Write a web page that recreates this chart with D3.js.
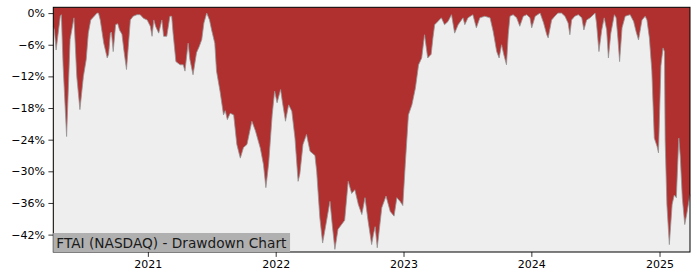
<!DOCTYPE html>
<html>
<head>
<meta charset="utf-8">
<script src="https://cdn.jsdelivr.net/npm/d3@7"></script>
<style>
  body { margin: 0; background: #fff; }
  svg { display: block; font-family: "DejaVu Sans", sans-serif; }
</style>
</head>
<body>
<svg id="chart" width="700" height="280"></svg>
<script>
// drawdown readings (percent) for FTAI
const dates = [
  '2020-04-06','2020-04-09','2020-04-14','2020-04-26','2020-04-29','2020-05-04','2020-05-14','2020-05-24',
  '2020-06-04','2020-06-12','2020-06-21','2020-07-01','2020-07-09','2020-07-15','2020-07-22','2020-07-29',
  '2020-08-09','2020-08-13','2020-08-18','2020-08-28','2020-09-07','2020-09-11','2020-09-16','2020-09-19',
  '2020-09-24','2020-10-01','2020-10-07','2020-10-12','2020-10-19','2020-10-25','2020-11-01','2020-11-06',
  '2020-11-12','2020-11-20','2020-12-01','2020-12-10','2020-12-20','2020-12-30','2021-01-08','2021-01-13',
  '2021-01-18','2021-01-23','2021-02-01','2021-02-10','2021-02-15','2021-02-24','2021-03-05','2021-03-10',
  '2021-03-14','2021-03-22','2021-04-03','2021-04-12','2021-04-17','2021-04-26','2021-05-01','2021-05-10',
  '2021-05-20','2021-05-28','2021-06-04','2021-06-10','2021-06-18','2021-06-26','2021-07-02','2021-07-11',
  '2021-07-16','2021-07-26','2021-08-05','2021-08-10','2021-08-16','2021-08-24','2021-09-03','2021-09-12',
  '2021-09-22','2021-10-01','2021-10-11','2021-10-25','2021-11-04','2021-11-18','2021-11-27','2021-12-04',
  '2021-12-12','2021-12-22','2021-12-29','2022-01-05','2022-01-15','2022-01-20','2022-01-29','2022-02-07',
  '2022-02-16','2022-02-25','2022-03-06','2022-03-11','2022-03-20','2022-03-30','2022-04-09','2022-04-23',
  '2022-04-28','2022-05-07','2022-05-15','2022-05-26','2022-06-05','2022-06-12','2022-06-19','2022-06-28',
  '2022-07-08','2022-07-17','2022-07-27','2022-08-06','2022-08-15','2022-08-25','2022-09-04','2022-09-13',
  '2022-09-22','2022-10-02','2022-10-07','2022-10-12','2022-10-18','2022-10-31','2022-11-12','2022-11-24',
  '2022-12-05','2022-12-13','2022-12-22','2022-12-30','2023-01-06','2023-01-15','2023-01-25','2023-02-04',
  '2023-02-13','2023-02-22','2023-03-02','2023-03-11','2023-03-21','2023-03-26','2023-03-31','2023-04-09',
  '2023-04-19','2023-04-28','2023-05-08','2023-05-18','2023-05-27','2023-06-06','2023-06-20','2023-06-25',
  '2023-07-04','2023-07-18','2023-07-28','2023-08-07','2023-08-21','2023-09-05','2023-09-14','2023-09-24',
  '2023-10-01','2023-10-08','2023-10-14','2023-10-22','2023-10-27','2023-11-01','2023-11-10','2023-11-20',
  '2023-11-29','2023-12-09','2023-12-19','2023-12-28','2024-01-02','2024-01-12','2024-01-26','2024-02-05',
  '2024-02-14','2024-02-18','2024-02-28','2024-03-08','2024-03-17','2024-03-27','2024-04-06','2024-04-15',
  '2024-04-20','2024-04-25','2024-05-04','2024-05-14','2024-05-24','2024-05-30','2024-06-07','2024-06-17',
  '2024-06-26','2024-07-01','2024-07-05','2024-07-12','2024-07-20','2024-07-27','2024-08-03','2024-08-08',
  '2024-08-15','2024-08-25','2024-08-30','2024-09-04','2024-09-09','2024-09-16','2024-09-25','2024-10-09',
  '2024-10-19','2024-10-26','2024-11-02','2024-11-12','2024-11-21','2024-11-26','2024-12-03','2024-12-10',
  '2024-12-17','2024-12-25','2024-12-29','2025-01-05','2025-01-11','2025-01-15','2025-01-17','2025-01-22',
  '2025-01-29','2025-02-06','2025-02-12','2025-02-18','2025-02-25','2025-03-01','2025-03-07','2025-03-14',
  '2025-03-20','2025-03-29'
];
const drawdown = [
  -2.5, -3.2, -7.0, -0.6, -0.3, -10.0, -23.4, -5.0,
  -0.9, -12.0, -18.3, -12.0, -8.8, -3.8, -1.3, -0.8,
  0.0, 0.0, -1.3, -5.7, -8.5, -7.8, -3.8, -3.6,
  -7.3, -2.2, -2.0, -3.2, -4.0, -7.3, -10.7, -6.5,
  -1.3, -0.6, -0.3, -0.3, -1.0, -1.3, -2.5, -4.4,
  -1.3, -2.5, -3.8, -1.3, -4.4, -4.4, -0.6, -0.6,
  -3.8, -9.2, -9.8, -9.8, -11.0, -5.7, -8.8, -11.7,
  -7.5, -6.3, -5.0, -1.9, 0.0, -1.3, -3.2, -5.7,
  -11.0, -14.8, -19.3, -18.5, -20.2, -19.0, -19.3, -24.9,
  -27.5, -25.5, -24.9, -20.5, -22.3, -25.6, -28.7, -33.1,
  -28.5, -19.3, -14.8, -17.0, -14.5, -16.8, -20.5, -17.4,
  -18.6, -23.7, -31.9, -30.5, -24.9, -23.0, -26.2, -27.0,
  -30.0, -38.8, -43.6, -39.5, -35.7, -40.5, -44.8, -41.0,
  -40.1, -39.3, -31.9, -34.2, -33.5, -36.3, -38.2, -35.0,
  -39.5, -43.9, -42.0, -40.5, -44.5, -36.9, -34.7, -37.6,
  -38.5, -35.0, -35.7, -36.5, -28.7, -19.3, -17.4, -14.2,
  -9.8, -8.5, -4.1, -8.5, -7.8, -4.7, -2.2, -1.6,
  -0.9, -2.2, -1.6, -0.3, -3.8, -2.2, -0.9, -2.2,
  -0.9, -0.3, -2.8, -0.9, -0.6, -0.9, -3.5, -7.3,
  -8.5, -6.0, -7.8, -9.8, -4.1, -0.6, -0.3, -0.9,
  -2.5, -0.6, -0.3, -0.9, -2.8, -0.6, 0.0, -1.9,
  -4.1, -4.7, -1.3, -0.6, 0.0, 0.0, -0.6, -1.9,
  -4.1, -1.3, -0.6, -0.3, -0.9, -3.2, -1.3, -0.9,
  -0.3, 0.0, -1.9, -7.3, -3.2, -0.9, -3.2, -8.5,
  -3.8, -0.3, -0.9, -4.7, -9.2, -2.8, -0.6, -0.3,
  -1.6, -3.5, -5.1, -1.3, -0.6, -1.3, -4.7, -11.0,
  -23.7, -25.3, -26.5, -10.0, -6.6, -7.3, -24.0, -36.3,
  -43.9, -36.3, -34.5, -35.0, -23.7, -27.0, -35.0, -40.1,
  -38.0, -34.4
];
const yTicks = [0, -6, -12, -18, -24, -30, -36, -42];
const title = 'FTAI (NASDAQ) - Drawdown Chart';

const parse = d3.timeParse('%Y-%m-%d');
const data = dates.map((d, i) => ({ date: parse(d), value: drawdown[i] }));

const margin = { top: 7.3, right: 10, bottom: 28, left: 53.3 };
const width = 700;
const height = 280;
const svg = d3.select('#chart');

const x = d3.scaleTime()
  .domain(d3.extent(data, d => d.date))
  .range([margin.left, width - margin.right]);

const y = d3.scaleLinear()
  .domain([-45.3, 1.1])
  .range([height - margin.bottom, margin.top]);

// red above the curve, light grey below it
svg.append('rect')
  .attr('x', margin.left)
  .attr('y', margin.top)
  .attr('width', x.range()[1] - margin.left)
  .attr('height', y.range()[0] - margin.top)
  .attr('fill', '#b03030');

const area = d3.area()
  .x(d => x(d.date))
  .y0(y.range()[0])
  .y1(d => y(d.value));

svg.append('path')
  .datum(data)
  .attr('d', area)
  .attr('fill', '#eeeeee');

svg.append('path')
  .datum(data)
  .attr('d', d3.line().x(d => x(d.date)).y(d => y(d.value)))
  .attr('fill', 'none')
  .attr('stroke', '#969696')
  .attr('stroke-width', 0.8);

const fmt = d => (d < 0 ? '\u2212' + Math.abs(d) : d) + '%';

svg.append('g')
  .attr('transform', `translate(${margin.left},0)`)
  .call(d3.axisLeft(y).tickValues(yTicks).tickFormat(fmt).tickSize(4.9).tickPadding(3.5))
  .call(g => g.select('.domain').remove());

svg.append('g')
  .attr('transform', `translate(0,${y.range()[0]})`)
  .call(d3.axisBottom(x).ticks(d3.timeYear.every(1)).tickFormat(d3.timeFormat('%Y')).tickSize(4.9).tickPadding(3.5))
  .call(g => g.select('.domain').remove());

svg.selectAll('.tick text')
  .attr('font-family', '"DejaVu Sans", sans-serif')
  .attr('font-size', 11)
  .attr('fill', '#000');
svg.selectAll('.tick line').attr('stroke', '#000').attr('stroke-width', 0.8);

// frame
svg.append('rect')
  .attr('x', margin.left)
  .attr('y', margin.top)
  .attr('width', x.range()[1] - margin.left)
  .attr('height', y.range()[0] - margin.top)
  .attr('fill', 'none')
  .attr('stroke', '#000')
  .attr('stroke-width', 1);

// label box in the lower left corner
const label = svg.append('g');
const labelText = label.append('text')
  .attr('x', margin.left + 3)
  .attr('y', y.range()[0] - 4.5)
  .attr('font-size', 13.7)
  .attr('fill', '#1a1a1a')
  .text(title);
const bb = labelText.node().getBBox();
label.insert('rect', 'text')
  .attr('x', margin.left)
  .attr('y', y.range()[0] - 19)
  .attr('width', bb.width + 6)
  .attr('height', 19)
  .attr('fill', '#b0b0b0');
</script>
</body>
</html>
